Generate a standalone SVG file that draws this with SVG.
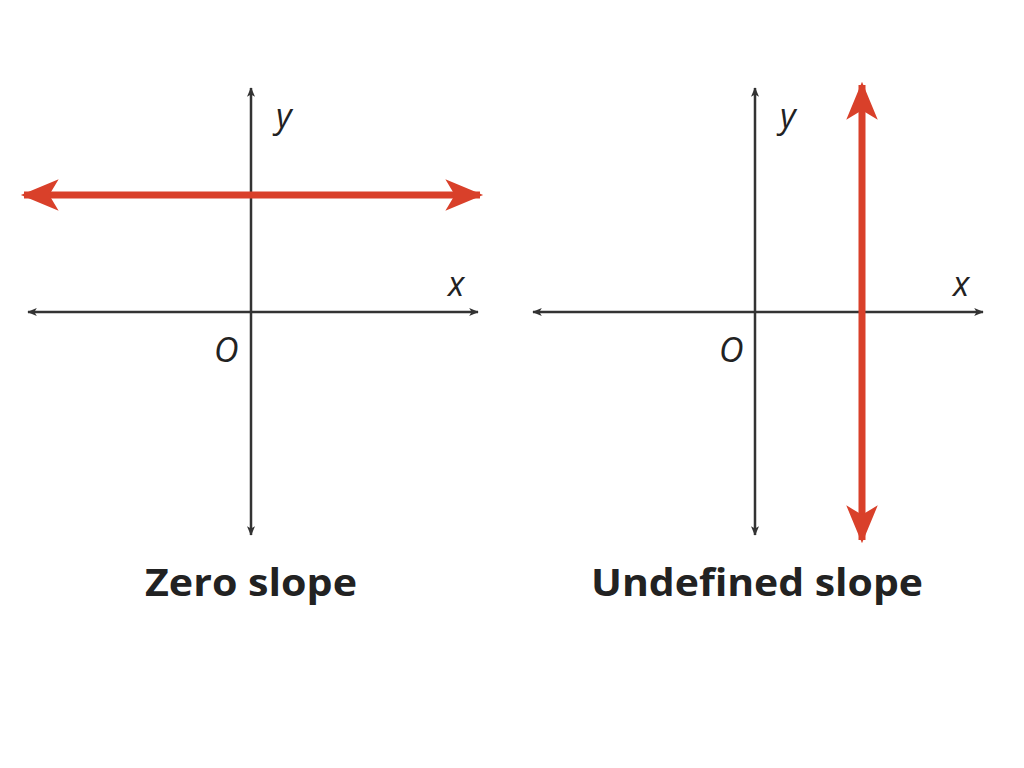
<svg xmlns="http://www.w3.org/2000/svg" width="1024" height="768" viewBox="0 0 1024 768">
<defs>
<style>
.ax{stroke:#333;stroke-width:2.5;fill:none}
.red{stroke:#d9402a;stroke-width:7;fill:none}
.lab{font-family:"Open Sans","Liberation Sans",sans-serif;font-style:italic;font-size:34px;fill:#222}
.cap{font-family:"Open Sans","Liberation Sans",sans-serif;font-weight:bold;font-size:38px;fill:#222}
</style>
<marker id="ak" viewBox="0 0 12 10" refX="11" refY="5" markerWidth="10" markerHeight="8" markerUnits="userSpaceOnUse" orient="auto-start-reverse"><path d="M0,0 L12,5 L0,10 L3,5 Z" fill="#333"/></marker>
<marker id="ar" viewBox="0 0 12 10" refX="11" refY="5" markerWidth="7" markerHeight="4.5" orient="auto-start-reverse"><path d="M0,0 L12,5 L0,10 L3,5 Z" fill="#d9402a"/></marker>
</defs>
<rect width="1024" height="768" fill="#fff"/>
<g id="left">
<line class="ax" x1="28" y1="312" x2="478" y2="312" marker-start="url(#ak)" marker-end="url(#ak)"/>
<line class="ax" x1="251" y1="88" x2="251" y2="535" marker-start="url(#ak)" marker-end="url(#ak)"/>
<line class="red" x1="24" y1="195" x2="480" y2="195" marker-start="url(#ar)" marker-end="url(#ar)"/>
<text class="lab" x="276" y="128">y</text>
<text class="lab" x="448" y="296">x</text>
<text class="lab" x="214" y="362" font-style="italic">O</text>
<text class="cap" x="251" y="596" text-anchor="middle" textLength="212" lengthAdjust="spacingAndGlyphs">Zero slope</text>
</g>
<g id="right">
<line class="ax" x1="533" y1="312" x2="983" y2="312" marker-start="url(#ak)" marker-end="url(#ak)"/>
<line class="ax" x1="755" y1="88" x2="755" y2="535" marker-start="url(#ak)" marker-end="url(#ak)"/>
<line class="red" x1="862" y1="85" x2="862" y2="540" marker-start="url(#ar)" marker-end="url(#ar)"/>
<text class="lab" x="780" y="128">y</text>
<text class="lab" x="953" y="296">x</text>
<text class="lab" x="719" y="362">O</text>
<text class="cap" x="757" y="596" text-anchor="middle" textLength="332" lengthAdjust="spacingAndGlyphs">Undefined slope</text>
</g>
</svg>
